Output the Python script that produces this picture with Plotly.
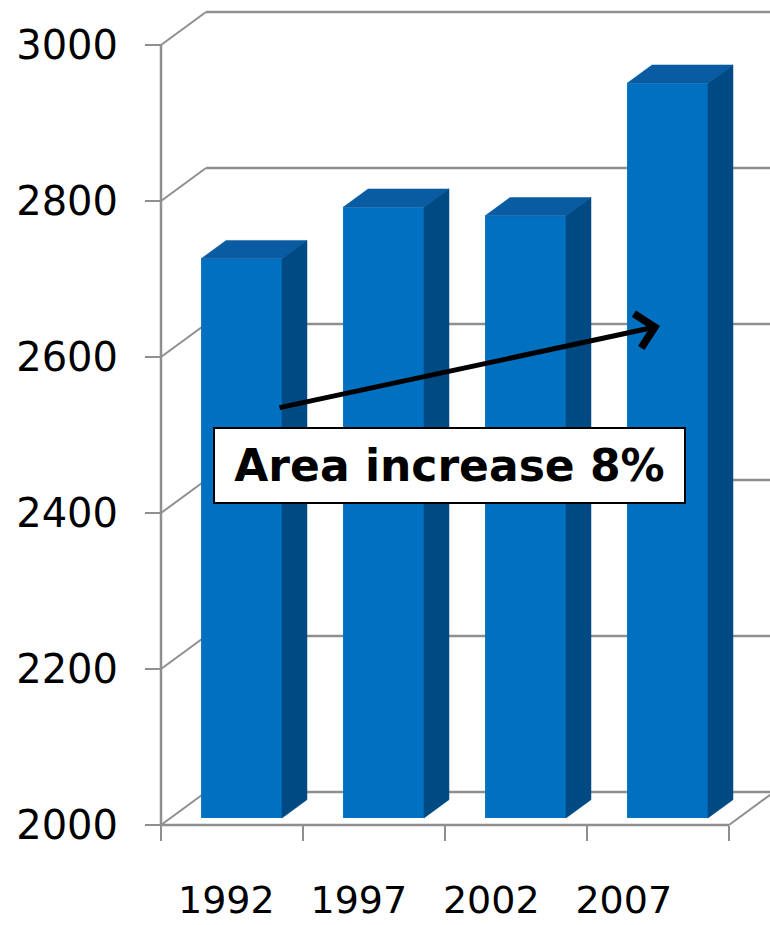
import plotly.graph_objects as go

# ---- data ----
years = ["1992", "1997", "2002", "2007"]
area = [2717, 2783, 2772, 2942]
y_ticks = [2000, 2200, 2400, 2600, 2800, 3000]
note = "Area increase 8%"

# ---- geometry (page pixels -> data units) ----
W, H = 770, 925
X0, CAT = 161, 142          # front value axis x, px per category
Y0, PXU = 825, 0.78         # y of 2000 at front, px per unit
DX, DY = 45, 33             # oblique depth offset of the walls (px)
sx, sy = DX / CAT, DY / PXU
D_FRONT, D_BACK = 0.212, 0.767
BAR_W = 0.57
VMIN, VMAX = y_ticks[0], y_ticks[-1]
NCAT = len(years)

GRID = "#8f8f8f"
FRONT = "#0070C0"
TOP = "#0A5CA2"
SIDE = "#004A84"

xr = [-X0 / CAT, (W - X0) / CAT]
yr = [VMIN - (H - Y0) / PXU, VMIN + Y0 / PXU]

fig = go.Figure()

# front faces
centers = [i + 0.5 + D_FRONT * sx for i in range(NCAT)]
fig.add_trace(go.Bar(
    x=centers, y=[v - VMIN for v in area], base=VMIN + D_FRONT * sy,
    width=BAR_W, marker=dict(color=FRONT, line=dict(width=0)),
    hoverinfo="skip", showlegend=False))

# top and side faces
tx, ty, qx, qy = [], [], [], []
dd = D_BACK - D_FRONT
for i, v in enumerate(area):
    xl = centers[i] - BAR_W / 2
    xrr = centers[i] + BAR_W / 2
    top_f = v + D_FRONT * sy
    bot_f = VMIN + D_FRONT * sy
    tx += [xl, xrr, xrr + dd * sx, xl + dd * sx, xl, None]
    ty += [top_f, top_f, top_f + dd * sy, top_f + dd * sy, top_f, None]
    qx += [xrr, xrr, xrr + dd * sx, xrr + dd * sx, xrr, None]
    qy += [top_f, bot_f, bot_f + dd * sy, top_f + dd * sy, top_f, None]
fig.add_trace(go.Scatter(x=tx, y=ty, mode="lines", fill="toself", fillcolor=TOP,
                         line=dict(width=0.5, color=TOP), hoverinfo="skip", showlegend=False))
fig.add_trace(go.Scatter(x=qx, y=qy, mode="lines", fill="toself", fillcolor=SIDE,
                         line=dict(width=0.5, color=SIDE), hoverinfo="skip", showlegend=False))

# walls: gridlines on back + left wall, floor edge
shapes = []
for t in y_ticks:
    shapes.append(dict(type="line", xref="x", yref="y", x0=0, y0=t, x1=sx, y1=t + sy,
                       line=dict(color=GRID, width=2), layer="below"))
    shapes.append(dict(type="line", xref="x", yref="y", x0=sx, y0=t + sy, x1=NCAT + sx, y1=t + sy,
                       line=dict(color=GRID, width=2.5), layer="below"))
shapes.append(dict(type="line", xref="x", yref="y", x0=NCAT, y0=VMIN, x1=NCAT + sx, y1=VMIN + sy,
                   line=dict(color=GRID, width=2), layer="below"))
# front axes lines
shapes.append(dict(type="line", xref="x", yref="y", x0=0, y0=VMIN, x1=0, y1=VMAX,
                   line=dict(color=GRID, width=2.5)))
shapes.append(dict(type="line", xref="x", yref="y", x0=0, y0=VMIN, x1=NCAT, y1=VMIN,
                   line=dict(color=GRID, width=2.5)))

label_x = [0.46 + 0.933 * i for i in range(NCAT)]

fig.update_layout(
    width=W, height=H, margin=dict(l=0, r=0, t=0, b=0),
    paper_bgcolor="white", plot_bgcolor="white",
    shapes=shapes, showlegend=False,
    xaxis=dict(range=xr, domain=[0, 1], anchor="free", position=(H - Y0) / H,
               showgrid=False, zeroline=False, showline=False,
               tickmode="array", tickvals=label_x, ticktext=years, ticks="",
               ticklabelstandoff=49,
               tickfont=dict(family="DejaVu Sans", size=38, color="black"),
               minor=dict(tickmode="array", tickvals=list(range(NCAT + 1)), ticks="outside",
                          ticklen=15, tickwidth=2, tickcolor=GRID, showgrid=False)),
    yaxis=dict(range=yr, domain=[0, 1], anchor="free", position=X0 / W, side="left",
               showgrid=False, zeroline=False, showline=False,
               tickmode="array", tickvals=y_ticks, ticks="outside", ticklen=16,
               tickwidth=2, tickcolor=GRID, ticklabelstandoff=19,
               tickfont=dict(family="DejaVu Sans", size=40, color="black")),
    annotations=[
        dict(xref="x", yref="y", axref="x", ayref="y",
             x=(660 - X0) / CAT, y=VMIN + (Y0 - 326) / PXU,
             ax=(278 - X0) / CAT, ay=VMIN + (Y0 - 408) / PXU,
             text="", showarrow=True, arrowhead=4, arrowsize=1.35, arrowwidth=5,
             arrowcolor="black", standoff=0, startstandoff=0),
        dict(xref="paper", yref="paper", x=449.5 / W, y=1 - 465.5 / H,
             xanchor="center", yanchor="middle", text="<b>" + note + "</b>",
             showarrow=False, width=469, height=73, bgcolor="white",
             bordercolor="black", borderwidth=2, borderpad=0,
             font=dict(family="DejaVu Sans", size=44, color="black")),
    ],
)

fig.write_html("out.html")
